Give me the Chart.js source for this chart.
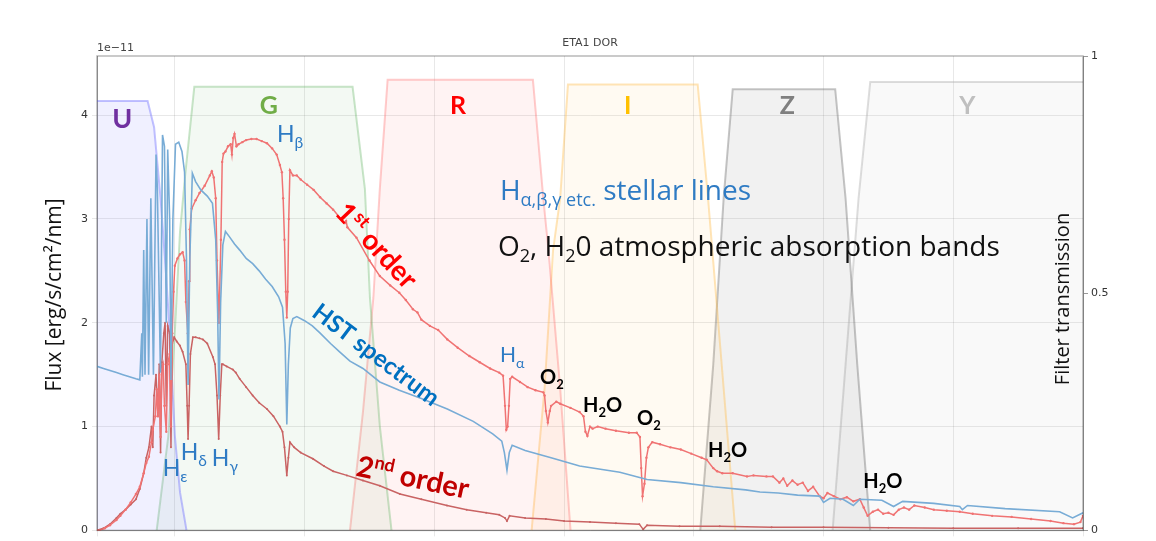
<!DOCTYPE html>
<html>
<head>
<meta charset="utf-8">
<script src="https://cdn.jsdelivr.net/npm/chart.js@4.4.1/dist/chart.umd.min.js"></script>
<style>
  html, body { margin: 0; padding: 0; background: #fff; }
  canvas { display: block; }
</style>
</head>
<body>
<canvas id="chart" width="1156" height="541"></canvas>
<script>
// Wavelength in nm, flux in units of 1e-11 erg/s/cm2/nm

// HST reference spectrum of eta1 Dor
const hstSpectrum = [
  [340,1.58],[345,1.56],[350,1.54],[355,1.52],[360,1.50],[365,1.48],[370,1.46],[373,1.45],
  [374.5,1.9],[375,1.48],[376,2.7],[377,1.5],[378.5,3.0],[379.8,1.5],[381.5,3.2],[383.5,1.5],
  [385.5,3.62],[386.5,3.3],[388.9,1.52],[390.5,3.81],[392,3.7],[393.4,2.0],[394.5,3.67],[396,3.0],
  [397,1.45],[398.5,3.0],[400.5,3.72],[403,3.74],[405.5,3.65],[407.5,3.45],[409,2.6],[410.2,1.4],
  [411.5,2.6],[413.5,3.44],[416,3.36],[420,3.28],[425,3.22],[429,3.15],[431.5,2.8],[433,2.1],
  [434,1.26],[435.3,2.2],[437,2.75],[439,2.88],[442,2.83],[446,2.76],[450,2.7],[455,2.62],
  [460,2.57],[465,2.5],[470,2.42],[475,2.35],[480,2.25],[483,2.15],[485,1.8],[486.3,1.02],
  [487.5,1.6],[489,1.95],[491,2.04],[494,2.06],[500,2.02],[506,1.97],[512,1.9],[520,1.8],
  [527,1.72],[535,1.63],[545,1.56],[558,1.43],[573,1.35],[590,1.27],[610,1.17],[630,1.05],
  [645,0.93],[652,0.86],[654,0.75],[656,0.58],[657.8,0.75],[660,0.82],[670,0.77],[690,0.70],
  [712,0.62],[743,0.56],[764,0.49],[790,0.46],[815,0.42],[840,0.39],[851,0.37],[865,0.36],
  [880,0.34],[897,0.33],[900,0.27],[905,0.31],[915,0.30],[923,0.24],[928,0.30],[945,0.29],
  [954,0.23],[961,0.28],[985,0.26],[1005,0.23],[1007,0.20],[1011,0.24],[1040,0.21],[1082,0.18],
  [1092,0.12],[1100,0.17]
];

// Ground-based slitless spectrum, first diffraction order
const firstOrder = [
  [340,0],[342,0],[346,0.02],[350,0.05],[355,0.10],[358,0.14],[362,0.20],[366,0.27],[370,0.35],
  [373,0.42],[376,0.55],[378,0.65],[380,0.71],[382,0.85],[383,0.97],[385,1.1],[386,1.36],[387,1.1],
  [388,1.5],[389,0.9],[390,1.55],[391,1.6],[392,1.2],[393.4,0.95],[394.5,1.6],[396,1.7],[397,1.0],
  [398,1.9],[399,2.3],[400,2.55],[402,2.62],[404,2.66],[406,2.68],[407.5,2.6],[408.5,2.2],[410,1.9],
  [411,2.4],[411.5,2.9],[413,3.1],[416,3.18],[419,3.25],[423,3.32],[427,3.42],[428.5,3.46],[430,3.4],
  [431.5,3.2],[432.5,2.6],[434,2.0],[435.5,2.8],[436.5,3.55],[437.5,3.63],[439,3.65],[441,3.7],
  [443,3.72],[444,3.62],[445,3.78],[446,3.82],[447.5,3.7],[449,3.72],[452,3.74],[455,3.76],[459,3.77],
  [463,3.77],[467,3.75],[471,3.73],[475,3.68],[478.5,3.62],[481,3.52],[482.5,3.45],[483.5,3.2],
  [484.5,2.8],[485.5,2.3],[486.3,2.05],[487,2.3],[487.8,3.0],[488.7,3.47],[491,3.42],[494,3.42],
  [497,3.38],[502,3.33],[507,3.28],[512,3.21],[517,3.15],[522,3.09],[528,3.0],[531,2.96],[532,2.98],
  [533,2.92],[540,2.82],[550,2.6],[558,2.45],[566,2.36],[573,2.29],[578,2.22],[583.5,2.13],[587,2.1],
  [590,2.03],[596.6,1.97],[603,1.93],[610,1.84],[618,1.76],[627,1.68],[635,1.62],[643,1.56],[650,1.52],
  [653,1.49],[654.5,1.2],[655.5,0.97],[656.5,1.0],[657.5,1.2],[658.5,1.46],[660,1.48],[666,1.43],
  [672,1.38],[678,1.35],[684,1.33],[685,1.3],[686,1.15],[687.5,1.04],[689,1.15],[690,1.2],[694,1.24],
  [697,1.22],[705,1.18],[712,1.14],[715,1.1],[716.5,0.95],[718,0.91],[720,1.0],[722,0.98],[726,1.0],
  [732,0.98],[740,0.96],[750,0.94],[756,0.94],[758.5,0.9],[759.5,0.6],[760.5,0.33],[762,0.45],
  [763.5,0.7],[765,0.8],[768,0.85],[774,0.83],[782,0.8],[790,0.78],[798,0.74],[806,0.7],[810,0.68],
  [815,0.6],[818,0.57],[822,0.55],[830,0.55],[841,0.52],[846,0.53],[856,0.52],[861,0.52],[866,0.46],
  [869,0.5],[872,0.43],[876,0.48],[880,0.44],[884,0.46],[888,0.38],[892,0.42],[897,0.33],[900,0.31],
  [903,0.36],[908,0.33],[913,0.3],[918,0.32],[923,0.28],[928,0.3],[931,0.22],[934,0.14],[938,0.18],
  [942,0.2],[946,0.16],[950,0.17],[954,0.15],[958,0.2],[962,0.22],[966,0.2],[970,0.24],[978,0.22],
  [985,0.2],[995,0.19],[1005,0.18],[1015,0.16],[1030,0.14],[1045,0.13],[1060,0.11],[1075,0.09],
  [1085,0.07],[1093,0.06],[1098,0.08],[1100,0.14]
];

// Second diffraction order, on the same wavelength scale
const secondOrder = [
  [340,0],[345,0.02],[350,0.06],[355,0.12],[358,0.16],[362,0.2],[366,0.25],[370,0.3],[373,0.4],
  [376,0.55],[378,0.7],[380,0.8],[382,1.0],[383,0.8],[384,1.3],[385.5,1.5],[387,1.1],[388,1.6],
  [389,0.75],[390,1.62],[391.5,1.9],[392.5,2.0],[393.4,1.2],[394.5,1.97],[396,1.9],[397,0.8],
  [398,1.8],[399.5,1.86],[401.5,1.82],[403.9,1.78],[406,1.72],[408.5,1.6],[409.5,1.2],[410.2,0.88],
  [411,1.2],[412,1.7],[413.9,1.86],[416,1.86],[419,1.85],[421.6,1.84],[425,1.8],[429.3,1.67],
  [431,1.6],[432.5,1.3],[433.8,0.88],[435,1.3],[436.2,1.6],[437,1.6],[440,1.58],[444.7,1.55],
  [447,1.52],[450,1.46],[455,1.38],[460,1.3],[465,1.23],[471,1.17],[476,1.1],[481,1.0],[483,0.95],
  [484.5,0.8],[486.3,0.53],[487.5,0.7],[488.7,0.85],[492,0.8],[497,0.75],[506.4,0.69],[515,0.62],
  [522,0.57],[532.6,0.53],[545,0.48],[558,0.43],[573.5,0.35],[590,0.3],[609.8,0.24],[625,0.2],
  [640,0.17],[650,0.15],[654.5,0.12],[656,0.09],[658,0.14],[670,0.12],[686,0.11],[700,0.09],
  [720,0.08],[740,0.07],[758,0.06],[761,0.01],[764,0.05],[789,0.04],[820,0.04],[860,0.03],
  [900,0.03],[950,0.025],[1000,0.02],[1050,0.02],[1100,0.02]
];

// Filter transmission curves (0..1)
const filterU = [[340,0.905],[379,0.905],[384,0.85],[389,0.7],[393,0.55],[396,0.42],[400,0.2],[404,0.08],[409,0]];
const filterG = [[386,0],[395,0.2],[400,0.42],[404,0.63],[408,0.75],[415,0.935],[537,0.935],[546.5,0.72],[550.4,0.49],[558,0.22],[567,0]];
const filterR = [[535,0],[545,0.25],[553,0.49],[558,0.72],[564,0.95],[676,0.95],[684,0.70],[688,0.59],[697,0.3],[705,0]];
const filterI = [[675,0],[685,0.3],[691.5,0.59],[697,0.70],[703,0.94],[803,0.94],[811,0.70],[820,0.4],[832,0]];
const filterZ = [[805,0],[815,0.35],[823,0.70],[830,0.93],[909,0.93],[917,0.70],[926,0.35],[936,0]];
const filterY = [[907,0],[917,0.35],[927,0.70],[936,0.945],[1100,0.945]];

const filterNames = ['U','G','R','I','Z','Y'];
const filterCurves = [filterU, filterG, filterR, filterI, filterZ, filterY];
const filterLabelWave = [359.5, 472.5, 618.2, 749, 872, 1010.8];

const leftTicks = [0, 1, 2, 3, 4];
const rightTicks = [0, 0.5, 1];

const filterStyle = {
  U: { fill: 'rgba(110,110,255,0.10)', line: 'rgba(120,120,255,0.45)', text: '#7030a0' },
  G: { fill: 'rgba(100,180,100,0.08)', line: 'rgba(100,180,100,0.35)', text: '#70ad47' },
  R: { fill: 'rgba(255,100,100,0.08)', line: 'rgba(255,110,110,0.35)', text: '#ff0000' },
  I: { fill: 'rgba(255,190,90,0.08)',  line: 'rgba(255,190,80,0.40)',  text: '#ffc000' },
  Z: { fill: 'rgba(120,120,120,0.10)', line: 'rgba(110,110,110,0.40)', text: '#7f7f7f' },
  Y: { fill: 'rgba(150,150,150,0.06)', line: 'rgba(170,170,170,0.40)', text: '#bfbfbf' }
};

const toPoints = arr => arr.map(p => ({ x: p[0], y: p[1] }));

const datasets = [
  { label: 'HST spectrum', data: toPoints(hstSpectrum), yAxisID: 'y', borderColor: '#78acd6',
    borderWidth: 1.6, pointRadius: 0, fill: false, order: 1 },
  { label: '1st order', data: toPoints(firstOrder), yAxisID: 'y', borderColor: '#f07373',
    backgroundColor: '#f07373', borderWidth: 1.5, pointRadius: 1.2, pointBorderWidth: 0, fill: false, order: 2 },
  { label: '2nd order', data: toPoints(secondOrder), yAxisID: 'y', borderColor: '#c96363',
    backgroundColor: '#c96363', borderWidth: 1.5, pointRadius: 1.0, pointBorderWidth: 0, fill: false, order: 3 }
];
filterNames.forEach((n, i) => {
  datasets.push({ label: n, data: toPoints(filterCurves[i]), yAxisID: 'yT',
    borderColor: filterStyle[n].line, backgroundColor: filterStyle[n].fill,
    borderWidth: 2, pointRadius: 0, fill: 'origin', order: 10 + i });
});

const LATO = 'Lato, "Open Sans", sans-serif';
const OPEN = '"Open Sans", Lato, sans-serif';

function drawRich(ctx, x, y, segs, opt) {
  const fam = opt.family || LATO;
  ctx.save();
  ctx.translate(x, y);
  ctx.rotate((opt.angle || 0) * Math.PI / 180);
  ctx.textBaseline = 'alphabetic';
  ctx.textAlign = 'left';
  let w = 0;
  segs.forEach(s => { ctx.font = `${s.w || opt.weight || 'normal'} ${s.size}px ${fam}`; w += ctx.measureText(s.t).width; });
  let cx = opt.align === 'center' ? -w / 2 : 0;
  ctx.fillStyle = opt.color;
  segs.forEach(s => {
    ctx.font = `${s.w || opt.weight || 'normal'} ${s.size}px ${fam}`;
    ctx.fillText(s.t, cx, s.dy || 0);
    cx += ctx.measureText(s.t).width;
  });
  ctx.restore();
}

const annotations = {
  id: 'annotations',
  afterDraw(chart) {
    const { ctx, chartArea: ca, scales } = chart;
    const X = v => scales.x.getPixelForValue(v);
    const Yv = v => scales.y.getPixelForValue(v);

    // frame
    ctx.save();
    ctx.strokeStyle = 'rgba(0,0,0,0.28)';
    ctx.lineWidth = 1.5;
    ctx.strokeRect(ca.left, ca.top, ca.right - ca.left, ca.bottom - ca.top);
    ctx.restore();

    // small matplotlib-style texts
    ctx.save();
    ctx.fillStyle = '#444';
    ctx.font = '11px "DejaVu Sans"';
    ctx.textBaseline = 'alphabetic';
    ctx.textAlign = 'left';
    ctx.fillText('1e\u221211', ca.left, ca.top - 5);
    ctx.textAlign = 'center';
    ctx.fillText('ETA1 DOR', 590, ca.top - 10);
    ctx.restore();

    // axis titles
    ctx.save();
    ctx.fillStyle = '#111';
    ctx.font = `21px ${OPEN}`;
    ctx.textAlign = 'center';
    ctx.translate(61, 295);
    ctx.rotate(-Math.PI / 2);
    ctx.fillText('Flux [erg/s/cm\u00b2/nm]', 0, 0);
    ctx.restore();
    ctx.save();
    ctx.fillStyle = '#111';
    ctx.font = `20px ${OPEN}`;
    ctx.textAlign = 'center';
    ctx.translate(ca.right - 14, 299);
    ctx.rotate(-Math.PI / 2);
    ctx.fillText('Filter transmission', 0, 0);
    ctx.restore();

    // filter names
    filterNames.forEach((n, i) => {
      const size = n === 'U' ? 27 : 25;
      const fy = n === 'U' ? 3.875 : 4.01;
      drawRich(ctx, X(filterLabelWave[i]), Yv(fy), [{ t: n, size }], { color: filterStyle[n].text, weight: 'bold', align: 'center' });
    });

    const blue = '#2e7bc4';
    const H = (lam, f, sub, size) => drawRich(ctx, X(lam), Yv(f),
      [{ t: 'H', size: size || 23 }, { t: sub, size: (size || 23) * 0.68, dy: 6 }], { color: blue });
    H(478.7, 3.74, '\u03b2');
    H(650.6, 1.62, '\u03b1', 21);
    H(390.7, 0.52, '\u03b5');
    H(404.6, 0.68, '\u03b4');
    H(428.5, 0.62, '\u03b3');

    drawRich(ctx, X(650.6), Yv(3.18), [
      { t: 'H', size: 28 }, { t: '\u03b1,\u03b2,\u03b3 etc.', size: 18, dy: 6 }, { t: ' stellar lines', size: 28 }
    ], { color: blue, family: OPEN });
    drawRich(ctx, X(649.1), Yv(2.64), [
      { t: 'O', size: 28 }, { t: '2', size: 18, dy: 6 }, { t: ', H', size: 28 }, { t: '2', size: 18, dy: 6 },
      { t: '0 atmospheric absorption bands', size: 28 }
    ], { color: '#111', family: OPEN });

    // atmospheric band markers
    const mol = (lam, f, water) => {
      const segs = water
        ? [{ t: 'H', size: 20 }, { t: '2', size: 13, dy: 5 }, { t: 'O', size: 20 }]
        : [{ t: 'O', size: 20 }, { t: '2', size: 13, dy: 5 }];
      drawRich(ctx, X(lam), Yv(f), segs, { color: '#000', weight: 'bold' });
    };
    mol(681.5, 1.41, false);
    mol(714.6, 1.14, true);
    mol(756.3, 1.02, false);
    mol(811, 0.71, true);
    mol(930.6, 0.41, true);

    // curve names
    drawRich(ctx, X(522.5), Yv(3.05), [
      { t: '1', size: 28 }, { t: 'st', size: 18, dy: -11 }, { t: ' order', size: 28 }
    ], { color: '#ff0000', weight: 'bold', angle: 47 });
    drawRich(ctx, X(504.5), Yv(2.07), [{ t: 'HST spectrum', size: 24 }],
      { color: '#0070c0', weight: 'bold', angle: 37 });
    drawRich(ctx, X(538.8), Yv(0.53), [
      { t: '2', size: 29 }, { t: 'nd', size: 18, dy: -11 }, { t: ' order', size: 29 }
    ], { color: '#c00000', weight: 'bold', angle: 12 });
  }
};

new Chart(document.getElementById('chart'), {
  type: 'line',
  data: { datasets },
  options: {
    responsive: false,
    animation: false,
    parsing: true,
    layout: { padding: { top: 56, left: 0, right: 0, bottom: 0 } },
    plugins: { legend: { display: false }, tooltip: { enabled: false } },
    elements: { line: { tension: 0 } },
    scales: {
      x: {
        type: 'linear', min: 340, max: 1100,
        ticks: { display: false, stepSize: 100 },
        grid: { color: 'rgba(0,0,0,0.09)', tickLength: 6 },
        border: { color: 'rgba(0,0,0,0.25)' },
        afterFit(s) { s.height = 10; }
      },
      y: {
        position: 'left', min: 0, max: 4.57,
        afterBuildTicks(s) { s.ticks = leftTicks.map(v => ({ value: v })); },
        ticks: { color: '#333', font: { family: 'DejaVu Sans', size: 11 }, padding: 4 },
        grid: { color: 'rgba(0,0,0,0.09)', tickLength: 5 },
        border: { color: 'rgba(0,0,0,0.25)' },
        afterFit(s) { s.width = 97; }
      },
      yT: {
        position: 'right', min: 0, max: 1,
        afterBuildTicks(s) { s.ticks = rightTicks.map(v => ({ value: v })); },
        ticks: { color: '#333', font: { family: 'DejaVu Sans', size: 11 }, padding: 3,
          callback: v => String(v) },
        grid: { drawOnChartArea: false, tickLength: 5, color: 'rgba(0,0,0,0.4)' },
        border: { color: 'rgba(0,0,0,0.3)' },
        afterFit(s) { s.width = 73; }
      }
    }
  },
  plugins: [annotations]
});
</script>
</body>
</html>
